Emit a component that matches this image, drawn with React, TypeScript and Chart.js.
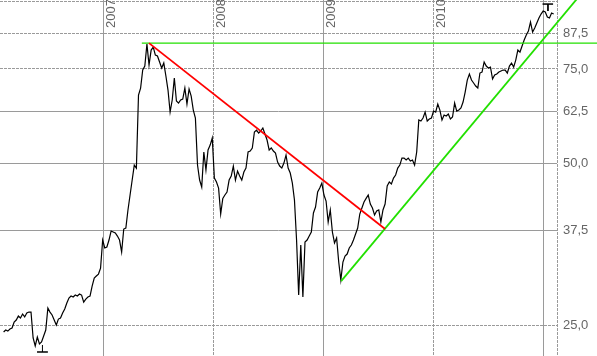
import React, { useEffect, useRef } from 'react';
import { Chart, registerables } from 'chart.js';

Chart.register(...registerables);

// ---- data ----
const START_DATE = '2006-02-03'; // first weekly close
const STEP_DAYS = 7;
const prices: number[] = [
  24.26, 24.47, 24.36, 24.57, 24.68, 25.32, 25.54, 25.99, 25.77, 26.21,
  25.88, 26.32, 26.43, 26.43, 23.65, 22.85, 23.75, 23.05, 23.25, 23.85,
  24.47, 26.89, 26.43, 26.10, 25.54, 25.00, 25.65, 25.77, 26.32, 26.78,
  27.48, 28.07, 28.31, 28.19, 28.43, 28.31, 28.55, 28.43, 27.59, 27.95,
  28.19, 28.31, 29.55, 30.58, 30.85, 31.11, 31.92, 36.00, 34.79, 34.94,
  36.00, 37.42, 37.26, 37.10, 36.62, 36.00, 34.20, 37.74, 37.90, 40.95,
  43.67, 46.57, 49.66, 49.02, 67.06, 69.10, 74.65, 75.94, 83.46, 76.27,
  81.34, 82.39, 79.61, 79.27, 77.26, 75.29, 76.93, 72.76, 68.51, 62.34,
  65.64, 72.14, 65.36, 64.79, 65.64, 65.92, 69.10, 64.51, 68.81, 66.77,
  62.88, 60.76, 49.66, 46.57, 45.19, 52.52, 48.61, 52.97, 54.11, 55.77,
  46.97, 46.17, 44.99, 40.25, 43.04, 43.67, 44.23, 46.57, 47.38, 49.45,
  46.57, 48.40, 47.38, 46.57, 48.19, 49.02, 52.52, 52.74, 53.43, 57.22,
  57.71, 56.97, 57.46, 58.21, 56.73, 55.29, 52.97, 53.43, 52.74, 52.29,
  50.31, 49.45, 49.02, 50.09, 51.84, 49.02, 47.99, 45.97, 42.74, 36.00,
  28.43, 35.24, 28.19, 35.70, 36.00, 36.62, 37.26, 40.43, 41.48, 44.23,
  44.99, 45.97, 43.67, 42.56, 38.89, 40.95, 37.26, 35.55, 36.31, 32.76,
  30.32, 32.76, 33.61, 33.90, 34.79, 35.24, 36.00, 36.94, 37.90, 40.25,
  41.30, 42.38, 43.04, 43.67, 42.01, 41.30, 40.08, 40.77, 40.95, 38.89,
  40.95, 42.01, 45.39, 46.17, 45.78, 46.97, 47.58, 49.02, 49.66, 51.17,
  51.17, 50.74, 51.17, 50.52, 50.74, 49.66, 52.52, 60.24, 59.98, 60.76,
  62.34, 59.98, 60.50, 60.76, 62.61, 62.34, 64.51, 62.88, 60.24, 61.55,
  61.29, 61.81, 60.50, 61.03, 64.79, 62.61, 62.88, 63.43, 65.07, 67.93,
  71.52, 73.38, 71.52, 70.61, 69.70, 69.10, 73.70, 74.02, 77.26, 75.94,
  75.29, 75.61, 71.83, 73.07, 73.38, 74.02, 74.33, 74.65, 74.65, 73.70,
  75.94, 76.93, 75.61, 77.92, 81.34, 80.64, 82.74, 84.91, 86.75, 88.25,
  91.72, 87.87, 89.40, 91.33, 93.31, 94.93, 96.16, 95.75, 93.71, 93.31,
  95.34, 94.93,
];

const yearLabels = ['2007', '2008', '2009', '2010'];
const yearLines = ['2007-01-01', '2008-01-01', '2009-01-01', '2010-01-01', '2011-01-01'];
const yearLineDashed = [false, true, false, true, false];
const priceTicks = [25, 37.5, 50, 62.5, 75, 87.5];
const gridLevels = [25, 37.5, 50, 62.5, 75, 87.5, 100];
const gridLevelDashed = [true, false, false, false, true, true, true];

// trend lines [date, value]
const downTrend: [string, number][] = [['2007-06-01', 83.8], ['2009-07-24', 37.74]];
const upTrend: [string, number][] = [['2009-02-28', 30.19], ['2011-06-11', 109.4]];
const peakLevel: [string, number][] = [['2007-05-08', 83.8], ['2011-07-09', 83.8]];

// low / high markers
const lowBar: [string, number][] = [['2006-05-25', 22.27], ['2006-06-30', 22.27]];
const lowStem: [string, number][] = [['2006-06-12', 22.27], ['2006-06-12', 22.95]];
const highBar: [string, number][] = [['2010-12-29', 99.08], ['2011-02-02', 99.08]];
const highStem: [string, number][] = [['2011-01-16', 99.08], ['2011-01-16', 96.16]];

const AXIS_START = '2006-01-22';
const AXIS_END = '2011-02-15';
const Y_MIN = 21.89;
const Y_MAX = 100.82;

// ---- helpers ----
const DAY = 86400000;
const toDay = (s: string) => Date.parse(s) / DAY;
const fmt = (v: number) => v.toFixed(1).replace('.', ',');
const pts = (arr: [string, number][]) => arr.map(([d, v]) => ({ x: toDay(d), y: v }));

const GRID = '#9a9a9a';
const TEXT = '#666666';
const FONT = '13px "Liberation Sans", Arial, sans-serif';

const overlayPlugin = {
  id: 'overlay',
  beforeDatasetsDraw(chart: any) {
    const { ctx, chartArea } = chart;
    const { left, right, top, bottom } = chartArea;
    const xs = chart.scales.x;
    const ys = chart.scales.y;
    ctx.save();
    ctx.strokeStyle = GRID;
    ctx.lineWidth = 1;
    gridLevels.forEach((v, i) => {
      const y = Math.floor(ys.getPixelForValue(v)) + 0.5;
      ctx.setLineDash(gridLevelDashed[i] ? [3, 1] : []);
      ctx.beginPath();
      ctx.moveTo(left, y);
      ctx.lineTo(right, y);
      ctx.stroke();
    });
    yearLines.forEach((d, i) => {
      const x = Math.floor(xs.getPixelForValue(toDay(d))) + 0.5;
      ctx.setLineDash(yearLineDashed[i] ? [3, 1] : []);
      ctx.beginPath();
      ctx.moveTo(x, top);
      ctx.lineTo(x, bottom);
      ctx.stroke();
    });
    ctx.setLineDash([3, 1]);
    ctx.beginPath();
    ctx.moveTo(Math.floor(right) + 0.5, top);
    ctx.lineTo(Math.floor(right) + 0.5, bottom);
    ctx.stroke();
    ctx.restore();
  },
  afterDraw(chart: any) {
    const { ctx, chartArea } = chart;
    const xs = chart.scales.x;
    const ys = chart.scales.y;
    ctx.save();
    ctx.fillStyle = TEXT;
    ctx.font = FONT;
    ctx.textAlign = 'left';
    ctx.textBaseline = 'middle';
    priceTicks.forEach((v) => {
      ctx.fillText(fmt(v), chartArea.right + 6, ys.getPixelForValue(v));
    });
    ctx.textBaseline = 'alphabetic';
    yearLabels.forEach((lbl, i) => {
      const x = Math.floor(xs.getPixelForValue(toDay(yearLines[i]))) + 12;
      ctx.save();
      ctx.translate(x, 28);
      ctx.rotate(-Math.PI / 2);
      ctx.fillText(lbl, 0, 0);
      ctx.restore();
    });
    ctx.restore();
  },
};

export default function App() {
  const ref = useRef<HTMLCanvasElement | null>(null);

  useEffect(() => {
    if (!ref.current) return;
    const start = toDay(START_DATE);
    const series = prices.map((p, i) => ({ x: start + i * STEP_DAYS, y: p }));
    const lineDs = (data: any[], color: string, width: number) => ({
      data,
      borderColor: color,
      borderWidth: width,
      pointRadius: 0,
      tension: 0,
      clip: false as any,
      fill: false,
    });
    const chart = new Chart(ref.current, {
      type: 'line',
      data: {
        datasets: [
          lineDs(pts(downTrend), '#ff0000', 1.8),
          lineDs(pts(upTrend), '#22e000', 1.8),
          lineDs(pts(peakLevel), '#22e000', 1.2),
          lineDs(pts(lowBar), '#000000', 1.5),
          lineDs(pts(lowStem), '#000000', 1),
          lineDs(pts(highBar), '#000000', 1.5),
          lineDs(pts(highStem), '#000000', 1),
          { ...lineDs(series, '#000000', 1.2), clip: 0 as any },
        ],
      },
      options: {
        animation: false,
        responsive: false,
        maintainAspectRatio: false,
        layout: { padding: { left: 0, top: 0, bottom: 0, right: 40 } },
        plugins: { legend: { display: false }, tooltip: { enabled: false } },
        scales: {
          x: { type: 'linear', display: false, min: toDay(AXIS_START), max: toDay(AXIS_END) },
          y: { type: 'logarithmic', display: false, min: Y_MIN, max: Y_MAX },
        },
      },
      plugins: [overlayPlugin],
    });
    return () => chart.destroy();
  }, []);

  return (
    <div style={{ position: 'absolute', left: 0, top: 0, width: 597, height: 356, background: '#fff' }}>
      <canvas ref={ref} width={597} height={356} style={{ display: 'block' }} />
    </div>
  );
}
